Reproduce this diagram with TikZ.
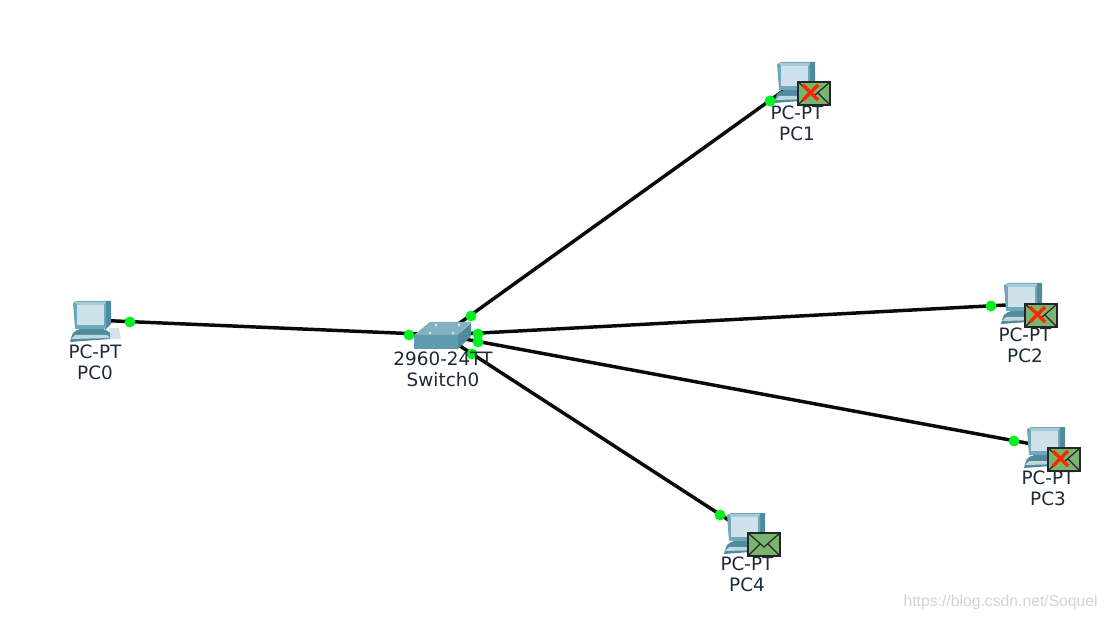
\documentclass[tikz,border=0pt]{standalone}
\usepackage{fontspec}
\setmainfont{DejaVu Sans}
\newfontfamily\wmfont{Liberation Sans}
\definecolor{wire}{HTML}{0A0A0A}
\definecolor{led}{HTML}{00F020}
\definecolor{lbl}{HTML}{1E2A38}
\definecolor{bodyc}{HTML}{6FA8BA}
\definecolor{darkc}{HTML}{4F8A9E}
\definecolor{topc}{HTML}{A6CBD6}
\definecolor{swtop}{HTML}{82B2C1}
\definecolor{swfront}{HTML}{5E9DB0}
\definecolor{scr}{HTML}{CFE2EC}
\definecolor{mail}{HTML}{79B56E}
\tikzset{
  x=0.75pt,y=-0.75pt,
  wirel/.style={draw=wire,line width=2.6pt},
  ledd/.style={circle,fill=led,inner sep=0pt,minimum size=8.2pt},
  dev/.style={inner sep=0pt,minimum size=1pt},
  lab/.style={text=lbl,font=\fontsize{13.8}{15}\selectfont,inner sep=0pt,anchor=center},
  pcicon/.pic={
    \fill[topc!50!white] (36,27)--(46,27)--(48,38)--(36,38)--cycle;
    \fill[darkc] (0,32)--(4,29)--(33,29)--(37,32)--(37,38)--(-3,41)--(-2,37)--cycle;
    \fill[bodyc!45!white] (-2,38)--(2,34)--(34,34)--(37,37)--cycle;
    \fill[darkc] (6,26)--(31,26)--(31,31)--(6,31)--cycle;
    \fill[darkc] (32,0)--(38,0)--(38,23)--(32,29)--cycle;
    \fill[bodyc] (0,2)--(4,0)--(33,0)--(33,28)--(2,28)--cycle;
    \fill[topc] (2,1)--(33,1)--(31,4)--(4,4)--cycle;
    \fill[scr] (4,4)--(31,4)--(31,24)--(4,24)--cycle;
  },
  mailpic/.pic={
    \draw[fill=mail,draw=black!85,line width=1.1pt] (0,0) rectangle (32,23);
    \draw[black!85,line width=0.9pt] (0,0)--(16,14)--(32,0) (0,23)--(12,11) (32,23)--(20,11);
  },
  badpic/.pic={
    \draw[draw=red!70!orange,line width=2.6pt] (5,3)--(20,18) (20,3)--(5,18);
  }
}
\begin{document}
\begin{tikzpicture}
\useasboundingbox (0,0) rectangle (1107,620);
\fill[white] (0,0) rectangle (1107,620);
% device anchors
\node[dev] (sw) at (443,335) {};
\node[dev] (pc0) at (92,320) {};
\node[dev] (pc1) at (797,81) {};
\node[dev] (pc2) at (1025,304) {};
\node[dev] (pc3) at (1048,447) {};
\node[dev] (pc4) at (747,532) {};
% connectors
\draw[wirel] (sw.center)--(pc0.center);
\draw[wirel] (sw.center)--(pc1.center);
\draw[wirel] (sw.center)--(pc2.center);
\draw[wirel] (sw.center)--(pc3.center);
\draw[wirel] (sw.center)--(pc4.center);
% PC icons
\pic at (73,301) {pcicon};
\pic at (777,62) {pcicon};
\pic at (1004,283) {pcicon};
\pic at (1027,427) {pcicon};
\pic at (727,513) {pcicon};
% switch
\fill[swfront] (414,335)--(458,335)--(458,349)--(414,349)--cycle;
\fill[darkc] (458,335)--(471,323)--(471,336)--(458,349)--cycle;
\fill[swtop] (414,335)--(430,322)--(471,322)--(458,335)--cycle;
\fill[white!80!swtop] (430,333) circle (1.3) (453,333) circle (1.3) (436,325) circle (1.3) (459,325) circle (1.3);
% link lights
\node[ledd] (l0a) at (130,322) {};
\node[ledd] (l0b) at (409,335) {};
\node[ledd] (l1a) at (471,316) {};
\node[ledd] (l1b) at (770,101) {};
\node[ledd] (l2a) at (478,334) {};
\node[ledd] (l2b) at (991,306) {};
\node[ledd] (l3a) at (478,342) {};
\node[ledd] (l3b) at (1014,441) {};
\node[ledd] (l4a) at (472,354) {};
\node[ledd] (l4b) at (720,515) {};
% labels
\node[lab] (t0a) at (95,352) {PC-PT};
\node[lab] (t0b) at (95,373) {PC0};
\node[lab] (t1a) at (797,113) {PC-PT};
\node[lab] (t1b) at (797,134) {PC1};
\node[lab] (t2a) at (1025,335) {PC-PT};
\node[lab] (t2b) at (1025,356) {PC2};
\node[lab] (t3a) at (1048,478) {PC-PT};
\node[lab] (t3b) at (1048,499) {PC3};
\node[lab] (t4a) at (747,564) {PC-PT};
\node[lab] (t4b) at (747,585) {PC4};
\node[lab] (tsa) at (443,359) {2960-24TT};
\node[lab] (tsb) at (443,380) {Switch0};
% envelopes
\pic at (798,82) {mailpic};
\pic at (798,82) {badpic};
\pic at (1025,304) {mailpic};
\pic at (1025,304) {badpic};
\pic at (1048,448) {mailpic};
\pic at (1048,448) {badpic};
\pic at (748,533) {mailpic};
% watermark
\node[text=black!17,font=\wmfont\fontsize{11.8}{14}\selectfont,inner sep=0pt,anchor=east] (wm) at (1098,602) {https://blog.csdn.net/Soquel};
\end{tikzpicture}
\end{document}
